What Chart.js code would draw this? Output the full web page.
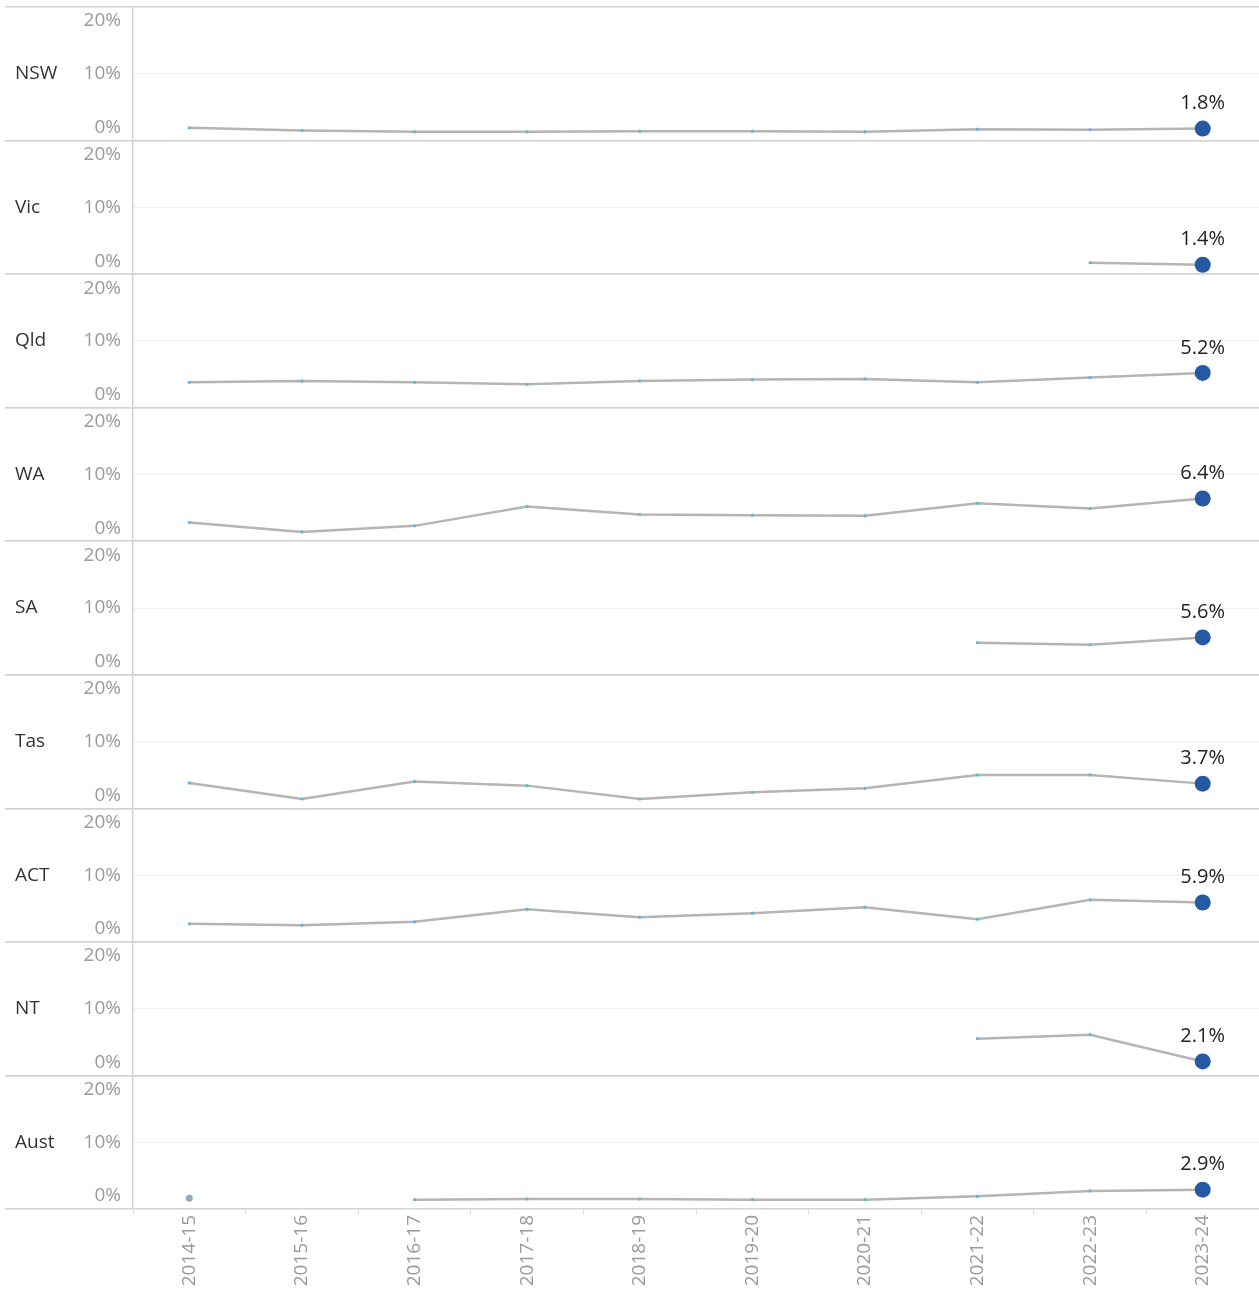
<!DOCTYPE html>
<html>
<head>
<meta charset="utf-8">
<script src="https://cdn.jsdelivr.net/npm/chart.js@4.4.1/dist/chart.umd.min.js"></script>
<style>
  html, body { margin: 0; padding: 0; background: #fff; overflow: hidden; }
  #wrap { width: 1259px; height: 1290px; position: relative; }
  #wrap canvas { display: block; }
</style>
</head>
<body>
<div id="wrap"><canvas id="rowsChart"></canvas></div>
<script>
const years = ['2014-15', '2015-16', '2016-17', '2017-18', '2018-19', '2019-20', '2020-21', '2021-22', '2022-23', '2023-24'];
const regions = ['NSW', 'Vic', 'Qld', 'WA', 'SA', 'Tas', 'ACT', 'NT', 'Aust'];
const yTicks = [0, 10, 20];

const nsw  = [1.9, 1.5, 1.3, 1.3, 1.4, 1.4, 1.3, 1.7, 1.6, 1.8];
const vic  = [null, null, null, null, null, null, null, null, 1.7, 1.4];
const qld  = [3.8, 4.0, 3.8, 3.5, 4.0, 4.2, 4.3, 3.8, 4.5, 5.2];
const wa   = [2.8, 1.4, 2.3, 5.2, 4.0, 3.9, 3.8, 5.7, 4.9, 6.4];
const sa   = [null, null, null, null, null, null, null, 4.8, 4.5, 5.6];
const tas  = [3.8, 1.4, 4.0, 3.4, 1.4, 2.4, 3.0, 5.0, 5.0, 3.7];
const act  = [2.7, 2.5, 3.0, 4.9, 3.7, 4.3, 5.2, 3.4, 6.3, 5.9];
const nt   = [null, null, null, null, null, null, null, 5.5, 6.1, 2.1];
const aust = [1.6, null, 1.4, 1.5, 1.5, 1.4, 1.4, 1.9, 2.7, 2.9];

const seriesList = [nsw, vic, qld, wa, sa, tas, act, nt, aust];

const FONT = "'Open Sans', sans-serif";
const LINE_GREY = '#b5b5b5';
const SEP_GREY = '#d3d3d3';

// last point = big dark dot, lone points a bit bigger, others tiny
function pointSizes(data) {
    return data.map((v, i) => {
        if (v === null) return 0;
        if (i === data.length - 1) return 8;
        const prev = i > 0 ? data[i - 1] : null;
        const next = i < data.length - 1 ? data[i + 1] : null;
        if (prev === null && next === null) return 3.5;
        return 1.6;
    });
}
function pointColors(data) {
    return data.map((v, i) => {
        if (i === data.length - 1) return '#2659a3';
        const prev = i > 0 ? data[i - 1] : null;
        const next = i < data.length - 1 ? data[i + 1] : null;
        if (prev === null && next === null) return '#8eaec2';
        return '#5fb6dc';
    });
}

const datasets = seriesList.map((data, i) => ({
    label: regions[i],
    data: data,
    yAxisID: 'y' + i,
    borderColor: LINE_GREY,
    borderWidth: 2.5,
    tension: 0,
    spanGaps: false,
    pointRadius: pointSizes(data),
    pointBackgroundColor: pointColors(data),
    pointBorderWidth: 0,
    pointHoverRadius: 0
}));

const scales = {
    x: {
        type: 'category',
        offset: true,
        grid: {
            display: true,
            drawOnChartArea: false,
            drawTicks: true,
            tickLength: 6,
            offset: true,
            color: '#e2e2e2'
        },
        border: { display: false },
        ticks: {
            minRotation: 90,
            maxRotation: 90,
            autoSkip: false,
            padding: 0,
            color: '#9a9a9a',
            font: { family: FONT, size: 19 }
        },
        afterFit: (s) => {
            s.height = 81;
            s.paddingLeft = 0;
            s.paddingRight = 0;
        }
    }
};

regions.forEach((name, i) => {
    scales['y' + i] = {
        type: 'linear',
        position: 'left',
        stack: 'rows',
        stackWeight: 1,
        weight: regions.length - i,
        offset: false,
        min: 0,
        max: 20,
        afterBuildTicks: (s) => { s.ticks = yTicks.map(v => ({ value: v })); },
        afterFit: (s) => { s.width = 133; },
        ticks: { display: false },
        grid: {
            drawTicks: true,
            tickLength: 128,
            lineWidth: (c) => (c.tick && c.tick.value === 10 ? 1 : 1.5),
            color: (c) => (c.tick && c.tick.value === 10 ? '#efefef' : SEP_GREY),
            tickColor: (c) => (c.tick && c.tick.value === 10 ? 'rgba(0,0,0,0)' : SEP_GREY)
        },
        border: { display: true, color: SEP_GREY, width: 1.5 }
    };
});

// row headers, clamped tick labels (like the original) and end-value labels
const panelText = {
    id: 'panelText',
    afterDraw(chart) {
        const ctx = chart.ctx;
        ctx.save();
        regions.forEach((name, i) => {
            const s = chart.scales['y' + i];
            ctx.font = '19px ' + FONT;
            ctx.textBaseline = 'middle';

            ctx.fillStyle = '#333';
            ctx.textAlign = 'left';
            ctx.fillText(name, 15, s.getPixelForValue(10));

            ctx.fillStyle = '#9a9a9a';
            ctx.textAlign = 'right';
            s.ticks.forEach(t => {
                let y = s.getPixelForValue(t.value);
                y = Math.min(Math.max(y, s.top + 14), s.bottom - 13);
                ctx.fillText(t.value + '%', 121, y);
            });

            const data = seriesList[i];
            const last = data.length - 1;
            const pt = chart.getDatasetMeta(i).data[last];
            if (pt && data[last] !== null) {
                ctx.font = '20px ' + FONT;
                ctx.fillStyle = '#222';
                ctx.textAlign = 'center';
                ctx.fillText(data[last].toFixed(1) + '%', pt.x, pt.y - 25);
            }
        });
        ctx.restore();
    }
};

new Chart(document.getElementById('rowsChart').getContext('2d'), {
    type: 'line',
    data: { labels: years, datasets: datasets },
    options: {
        responsive: true,
        maintainAspectRatio: false,
        animation: false,
        layout: { autoPadding: false, padding: { top: 7, left: 0, right: 0, bottom: 0 } },
        plugins: {
            legend: { display: false },
            tooltip: { enabled: false }
        },
        scales: scales
    },
    plugins: [panelText]
});
</script>
</body>
</html>
